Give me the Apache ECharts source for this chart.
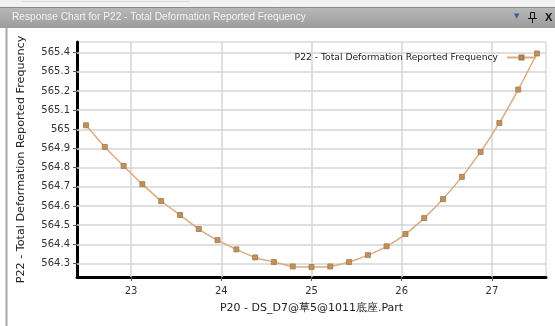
<!DOCTYPE html>
<html>
<head>
<meta charset="utf-8">
<script src="https://cdn.jsdelivr.net/npm/echarts@6/dist/echarts.min.js"></script>
<style>
  html, body { margin: 0; padding: 0; background: #ffffff; }
  #chart { width: 555px; height: 326px; }
</style>
</head>
<body>
<div id="chart"></div>
<script>
// Design point input (P20) and reported frequency output (P22)
const inputP20 = [22.5, 22.708, 22.917, 23.125, 23.333, 23.542, 23.75, 23.958, 24.167,
  24.375, 24.583, 24.792, 25.0, 25.208, 25.417, 25.625, 25.833, 26.042, 26.25,
  26.458, 26.667, 26.875, 27.083, 27.292, 27.5];
const frequencyP22 = [565.021, 564.908, 564.809, 564.714, 564.626, 564.553, 564.48, 564.422,
  564.374, 564.332, 564.308, 564.285, 564.282, 564.285, 564.308, 564.344, 564.39,
  564.454, 564.537, 564.636, 564.752, 564.882, 565.033, 565.207, 565.395];
const xTicks = [23, 24, 25, 26, 27];
const yTicks = [564.3, 564.4, 564.5, 564.6, 564.7, 564.8, 564.9, 565, 565.1, 565.2, 565.3, 565.4];

const seriesName = 'P22 - Total Deformation Reported Frequency';
const panelTitle = 'Response Chart for P22 - Total Deformation Reported Frequency';
const xName = 'P20 - DS_D7@草5@1011底座.Part';

const points = inputP20.map((x, i) => [x, frequencyP22[i]]);

const chart = echarts.init(document.getElementById('chart'), null, { renderer: 'canvas' });

const font = 'DejaVu Sans';

chart.setOption({
  animation: false,
  backgroundColor: '#ffffff',
  textStyle: { fontFamily: font },
  grid: {
    left: 77, right: 9, top: 42, bottom: 49,
    show: true, borderColor: '#c8c8c8', borderWidth: 1
  },
  legend: {
    right: 18, top: 53, padding: 0,
    align: 'right',
    itemWidth: 29, itemHeight: 5,
    textStyle: { fontFamily: font, fontSize: 9.2, color: '#1a1a1a', padding: [0, 4, 0, 0] },
    data: [seriesName]
  },
  xAxis: {
    type: 'value', min: 22.4, max: 27.6,
    name: xName, nameLocation: 'middle', nameGap: 26,
    nameTextStyle: { fontFamily: font, fontSize: 11, color: '#222222' },
    axisLine: { show: true, onZero: false, lineStyle: { color: '#000000', width: 3 } },
    axisTick: { show: true, customValues: xTicks, length: 4, lineStyle: { color: '#555555', width: 1 } },
    axisLabel: { customValues: xTicks, fontSize: 10, color: '#333333', margin: 9 },
    splitLine: { show: false }
  },
  yAxis: {
    type: 'value', min: 564.23, max: 565.455,
    name: seriesName, nameLocation: 'middle', nameGap: 50, nameRotate: 90,
    nameTextStyle: { fontFamily: font, fontSize: 11.2, color: '#222222' },
    axisLine: { show: true, onZero: false, lineStyle: { color: '#000000', width: 3 } },
    axisTick: { show: true, customValues: yTicks, length: 4, lineStyle: { color: '#555555', width: 1 } },
    axisLabel: { customValues: yTicks, fontSize: 10, color: '#333333', margin: 7 },
    splitLine: { show: false }
  },
  series: [{
    name: seriesName,
    type: 'line',
    data: points,
    smooth: 0.2,
    symbol: 'rect',
    symbolSize: 5,
    lineStyle: { color: '#d8ad82', width: 1.5 },
    itemStyle: { color: '#c0915f', borderColor: '#a87848', borderWidth: 0.8 },
    z: 5,
    markLine: {
      silent: true,
      symbol: 'none',
      label: { show: false },
      animation: false,
      lineStyle: { color: '#d4d4d4', width: 1.5, type: 'solid' },
      z: 1,
      data: [
        ...xTicks.map(v => ({ xAxis: v })),
        ...yTicks.map(v => ({ yAxis: v }))
      ]
    }
  }],
  graphic: [
    // window strip above the panel header
    { type: 'rect', shape: { x: 0, y: 0, width: 555, height: 7 }, style: { fill: '#f2f2f2' }, silent: true },
    { type: 'line', shape: { x1: 22, y1: 1.5, x2: 190, y2: 1.5 }, style: { stroke: '#d8d8d8', lineWidth: 1 }, silent: true },
    // panel header bar
    {
      type: 'rect', shape: { x: 0, y: 7, width: 555, height: 21 },
      style: {
        fill: new echarts.graphic.LinearGradient(0, 0, 0, 1, [
          { offset: 0, color: '#b9b9b9' }, { offset: 1, color: '#9c9c9c' }
        ])
      },
      silent: true
    },
    { type: 'line', shape: { x1: 0, y1: 7.5, x2: 555, y2: 7.5 }, style: { stroke: '#8a8a8a', lineWidth: 1 }, silent: true },
    {
      type: 'text', left: 12, top: 12,
      style: { text: panelTitle, fill: '#f4f4f4', font: '10.2px "Liberation Sans"' },
      silent: true
    },
    {
      type: 'text', left: 514, top: 13,
      style: { text: '▼', fill: '#3a5aa8', font: '7px "DejaVu Sans"' },
      silent: true
    },
    // pin icon
    { type: 'rect', shape: { x: 530.5, y: 12.5, width: 4, height: 6 }, style: { fill: 'none', stroke: '#111111', lineWidth: 1 }, silent: true },
    { type: 'line', shape: { x1: 528, y1: 18.5, x2: 537, y2: 18.5 }, style: { stroke: '#111111', lineWidth: 1 }, silent: true },
    { type: 'line', shape: { x1: 532.5, y1: 18.5, x2: 532.5, y2: 23 }, style: { stroke: '#111111', lineWidth: 1 }, silent: true },
    {
      type: 'text', left: 545, top: 12,
      style: { text: 'X', fill: '#111111', font: 'bold 11px "Liberation Sans"' },
      silent: true
    },
    // panel left border
    { type: 'line', shape: { x1: 6.5, y1: 28, x2: 6.5, y2: 326 }, style: { stroke: '#a8a8a8', lineWidth: 2 }, silent: true }
  ]
});
</script>
</body>
</html>
